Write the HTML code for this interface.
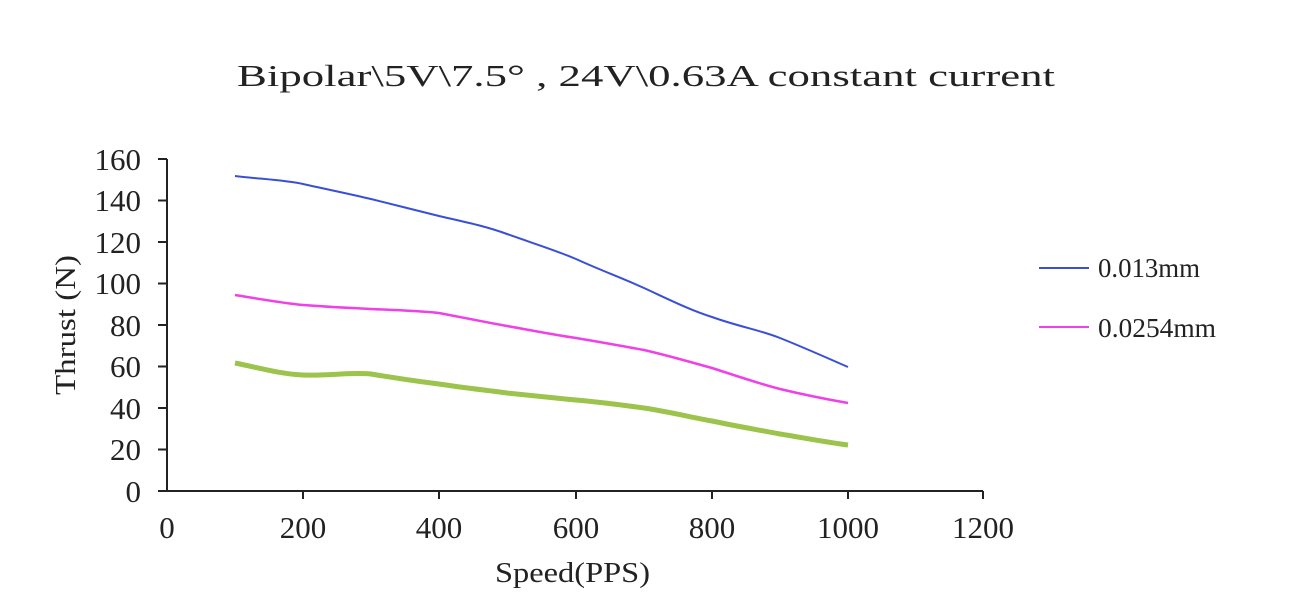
<!DOCTYPE html>
<html><head><meta charset="utf-8"><style>body{margin:0;background:#fff}svg{display:block}</style></head><body>
<svg width="1302" height="606" xmlns="http://www.w3.org/2000/svg">
<text x="237" y="86" textLength="818" lengthAdjust="spacingAndGlyphs" font-family="Liberation Serif, serif" font-size="31" fill="#222">Bipolar\5V\7.5° , 24V\0.63A constant current</text>
<g stroke="#222" stroke-width="2" fill="none">
<line x1="167" y1="159" x2="167" y2="492"/>
<line x1="166" y1="491" x2="983" y2="491"/>
<line x1="158" y1="159" x2="167" y2="159"/><line x1="158" y1="200.5" x2="167" y2="200.5"/><line x1="158" y1="242" x2="167" y2="242"/><line x1="158" y1="283.5" x2="167" y2="283.5"/><line x1="158" y1="325" x2="167" y2="325"/><line x1="158" y1="366.5" x2="167" y2="366.5"/><line x1="158" y1="408" x2="167" y2="408"/><line x1="158" y1="449.5" x2="167" y2="449.5"/><line x1="158" y1="491" x2="167" y2="491"/>
<line x1="303" y1="491" x2="303" y2="499"/><line x1="439" y1="491" x2="439" y2="499"/><line x1="576" y1="491" x2="576" y2="499"/><line x1="712" y1="491" x2="712" y2="499"/><line x1="848" y1="491" x2="848" y2="499"/><line x1="983" y1="491" x2="983" y2="499"/>
</g>
<g font-family="Liberation Serif, serif" font-size="31" fill="#222" text-anchor="end">
<text x="141" y="170">160</text><text x="141" y="211">140</text><text x="141" y="253">120</text><text x="141" y="294">100</text><text x="141" y="336">80</text><text x="141" y="377">60</text><text x="141" y="419">40</text><text x="141" y="460">20</text><text x="141" y="502">0</text>
</g>
<g font-family="Liberation Serif, serif" font-size="31" fill="#222" text-anchor="middle">
<text x="167" y="538">0</text><text x="303" y="538">200</text><text x="439" y="538">400</text><text x="576" y="538">600</text><text x="712" y="538">800</text><text x="848" y="538">1000</text><text x="983" y="538">1200</text>
</g>
<text x="495" y="582" textLength="155" lengthAdjust="spacingAndGlyphs" font-family="Liberation Serif, serif" font-size="29" fill="#222">Speed(PPS)</text>
<text transform="translate(75,325) rotate(-90)" x="-70" y="0" textLength="140" lengthAdjust="spacingAndGlyphs" font-family="Liberation Serif, serif" font-size="29" fill="#222">Thrust (N)</text>
<path d="M235,176 C260,179 285,180 303,184 C330,190 350,194 371,199 C395,205 415,210 439,216 C465,222 485,226 507,234 C535,244 555,250 576,259 C600,270 622,278 644,288 C670,300 690,310 712,317 C740,327 760,330 780,338 C805,348 825,357 848,367" fill="none" stroke="#3a4fd8" stroke-width="2"/>
<path d="M235,295 C260,299 282,303 303,305 C330,307 350,308 371,309 C395,310 420,311 439,313 C465,318 485,322 507,326 C535,331 555,335 576,338 C600,342 622,346 644,350 C670,356 690,362 712,368 C740,377 760,384 780,389 C805,395 825,399 848,403" fill="none" stroke="#f040e8" stroke-width="2.5"/>
<path d="M235,363 C260,368 280,374 303,375 C330,376 350,372 371,374 C395,378 415,381 439,384 C465,388 485,390 507,393 C535,396 555,398 576,400 C600,402 622,405 644,408 C670,412 690,417 712,421 C740,427 760,430 780,434 C805,438 825,442 848,445" fill="none" stroke="#9cc34c" stroke-width="5"/>
<line x1="1039" y1="268" x2="1089" y2="268" stroke="#3a4fd8" stroke-width="2"/>
<line x1="1039" y1="327" x2="1089" y2="327" stroke="#f040e8" stroke-width="2"/>
<g font-family="Liberation Serif, serif" font-size="27" fill="#222">
<text x="1098" y="277" textLength="102" lengthAdjust="spacingAndGlyphs">0.013mm</text><text x="1098" y="337" textLength="118" lengthAdjust="spacingAndGlyphs">0.0254mm</text>
</g>
</svg>
</body></html>
